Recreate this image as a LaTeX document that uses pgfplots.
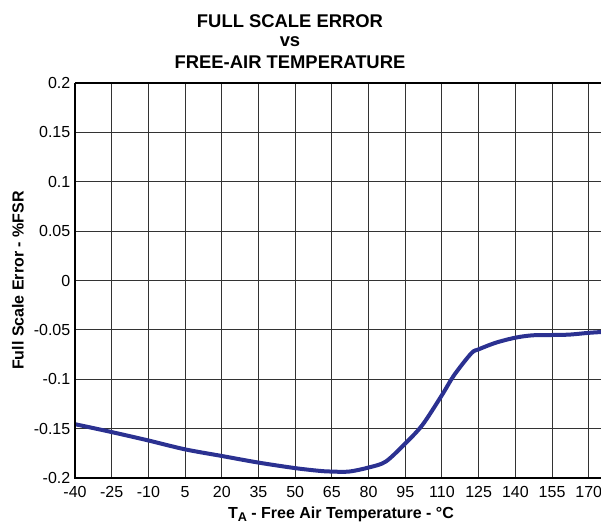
\documentclass[border=0pt]{standalone}
\usepackage{pgfplots}
\pgfplotsset{compat=1.18}
\usepackage{fontspec}
\setmainfont{Liberation Sans}
\definecolor{curveblue}{RGB}{43,49,145}

% full scale error (%FSR) against free-air temperature (degC)
\pgfplotstableread{
T     err
-40  -0.1455
-25  -0.1535
-10  -0.1620
5    -0.1710
20   -0.1777
35   -0.1844
50   -0.1900
60   -0.1928
65   -0.1935
72   -0.1935
80   -0.1894
87   -0.1834
95   -0.1650
102  -0.1463
110  -0.1160
115  -0.0957
122  -0.0737
125  -0.0697
132  -0.0630
140  -0.0579
147  -0.0555
155  -0.0552
162  -0.0548
170  -0.0530
175  -0.0522
}\fsrdata

\begin{document}
\begin{tikzpicture}
\begin{axis}[
  name=ax,
  scale only axis,
  width=394.5pt, height=296.25pt,
  xmin=-40, xmax=175,
  ymin=-0.2, ymax=0.2,
  xtick={-40,-25,...,170},
  xticklabels={-40,-25,-10,5,20,35,50,65,80,95,110,125,140,155,170},
  ytick={-0.2,-0.15,-0.1,-0.05,0,0.05,0.1,0.15,0.2},
  yticklabels={-0.2,-0.15,-0.1,-0.05,0,0.05,0.1,0.15,0.2},
  major tick length=0pt,
  tick label style={font=\fontsize{12}{14}\selectfont},
  xticklabel style={yshift=-3pt},
  grid=major,
  major grid style={line width=0.75pt, color=black!80},
  axis line style={draw=none},
  clip=false,
]
\addplot[curveblue, line width=3pt, smooth, tension=0.5] table[x=T, y=err] {\fsrdata};
\draw[black, line width=1.6pt] (rel axis cs:0,1) -- (rel axis cs:0,0) -- (rel axis cs:1,0);
\draw[black, line width=1.6pt] (rel axis cs:0,1) -- (rel axis cs:1,1);
\end{axis}
% titles and axis labels
\node[anchor=base, font=\fontsize{13.8}{15}\selectfont\bfseries]
  at ([shift={(161.25pt,42pt)}]ax.north west) {FULL SCALE ERROR};
\node[anchor=base, font=\fontsize{13.8}{15}\selectfont\bfseries]
  at ([shift={(161.25pt,27.75pt)}]ax.north west) {vs};
\node[anchor=base, font=\fontsize{13.8}{15}\selectfont\bfseries]
  at ([shift={(161.25pt,11.25pt)}]ax.north west) {FREE-AIR TEMPERATURE};
\node[anchor=base, font=\fontsize{12}{14}\selectfont\bfseries]
  at ([shift={(199.5pt,-30.75pt)}]ax.south west)
  {T\raisebox{-0.3ex}{\fontsize{9.5}{10}\selectfont A} - Free Air Temperature - °C};
\node[rotate=90, anchor=center, font=\fontsize{12}{14}\selectfont\bfseries]
  at ([shift={(-42.75pt,0pt)}]ax.west) {Full Scale Error - \%FSR};
% page extent
\pgfresetboundingbox
\path ([shift={(-56.25pt,-35.25pt)}]ax.south west) rectangle ([shift={(0pt,62.25pt)}]ax.north east);
\end{tikzpicture}
\end{document}
